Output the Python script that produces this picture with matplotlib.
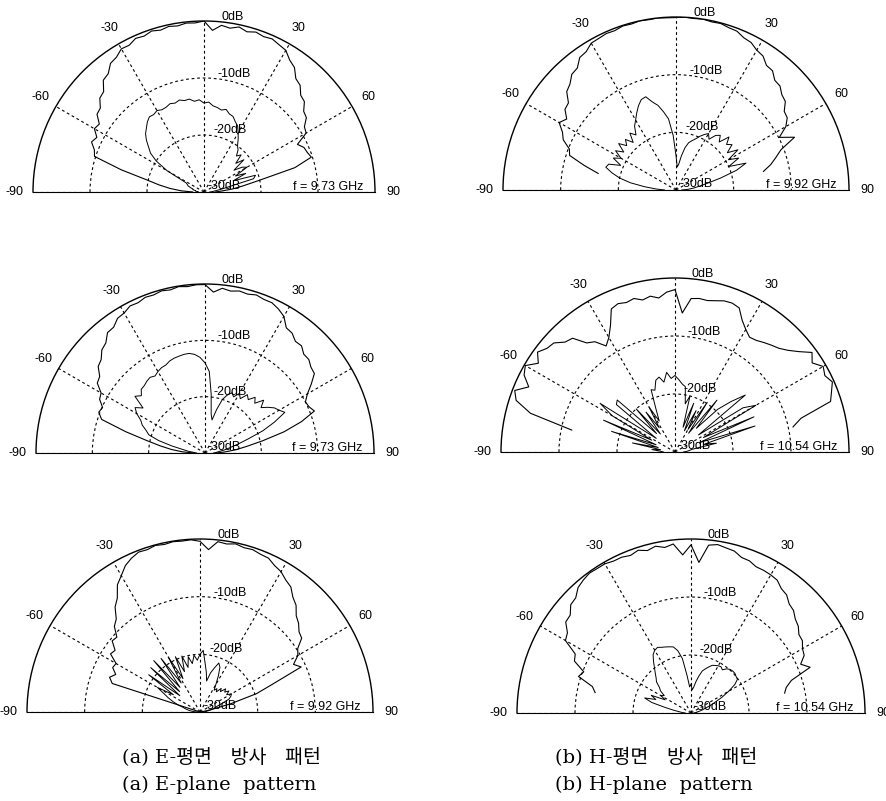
import numpy as np
import matplotlib
matplotlib.use("Agg")
import matplotlib.pyplot as plt

nan = np.nan

# measurement angles (deg), shared by every pattern below
ANG = np.arange(-90, 91, 3)

# (a) E-plane, 9.73 GHz (top)
E1_CO = [-28.0, -26.0, -24.0, -22.0, -19.7, -15.0, -9.8, -9.4, -8.4, -8.9,
         -7.8, -8.1, -6.8, -6.6, -5.4, -5.1, -3.6, -3.3, -2.1, -1.8,
         -1.0, -1.1, -0.5, -0.7, -0.3, -0.6, -0.3, -0.5, -0.2, -0.3,
         0.0,
         -1.6, -0.6, -0.9, -0.4, -0.9, -0.5, -0.8, -0.6, -1.0, -1.3,
         -2.4, -3.0, -4.4, -4.8, -6.0, -6.3, -7.5, -7.8, -9.0, -9.3,
         -11.6, -10.8, -10.6, -10.2, -13.5, -20.0, -23.0, -25.0, -27.0, -28.0]
E1_X = [-29.0, -29.0, -28.5, -28.5, -28.0, -28.0, -27.5, -27.0, -26.8, -26.5,
        -22.5, -20.0, -18.4, -17.5, -16.4, -15.5, -14.9, -14.2, -13.7, -13.8,
        -13.5, -13.8, -13.7, -13.4, -13.6, -13.3, -13.6, -13.5, -14.0, -13.8,
        -14.4,
        -14.2, -14.8, -15.0, -15.3, -15.0, -15.6, -15.8, -16.5, -17.0, -18.0,
        -19.0, -20.0, -20.5, -21.5, -20.8, -22.5, -21.0, -23.5, -22.0, -21.3,
        -23.8, -22.0, -24.5, -20.5, -21.0, -25.5, -27.0, -28.0, -28.5, -29.0]

# (b) H-plane, 9.92 GHz (top)
H1_CO = [nan, nan, nan, nan, -16.2, -13.5, -10.6, -10.2, -8.6, -7.9,
         -6.6, -7.4, -6.2, -6.0, -4.5, -4.0, -3.0, -2.8, -1.6, -1.4,
         -0.6, -0.5, -0.3, -0.4, -0.1, -0.2, 0.0, -0.1, 0.0, -0.1,
         -0.1,
         0.0, -0.1, 0.0, -0.2, -0.1, -0.4, -0.5, -1.1, -1.3, -2.0,
         -2.3, -3.3, -3.4, -4.4, -4.5, -5.3, -5.6, -6.8, -7.0, -8.0,
         -9.9, -7.5, -10.5, -11.8, -13.0, -14.5, nan, nan, nan, nan]
H1_X = [-28.0, -26.5, -24.5, -22.0, -20.0, -18.5, -17.2, -17.5, -19.5, -17.8,
        -19.0, -17.5, -18.8, -17.2, -18.5, -17.6, -18.9, -17.3, -18.2, -16.8,
        -16.0, -15.0, -14.0, -13.2, -13.0, -14.2, -15.0, -16.3, -17.6, -20.5,
        -24.0,
        -26.0, -25.5, -24.0, -22.5, -21.5, -21.0, -20.5, -19.8, -19.2, -18.7,
        -19.5, -18.3, -17.8, -18.8, -17.0, -18.2, -17.5, -19.0, -17.2, -19.5,
        -17.8, -20.0, -17.0, -19.0, -22.0, -24.5, -26.0, -27.0, -28.0, -29.0]

# (a) E-plane, 9.73 GHz (middle)
E2_CO = [-28.0, -26.0, -24.0, -22.0, -19.5, -15.5, -10.7, -9.8, -10.1, -9.0,
         -8.7, -7.2, -6.9, -5.6, -5.2, -4.1, -3.7, -2.5, -2.4, -1.5,
         -1.3, -0.7, -0.8, -0.4, -0.5, -0.2, -0.4, -0.1, -0.3, -0.1,
         -0.1,
         -1.4, -0.6, -0.9, -0.6, -0.8, -0.5, -0.8, -0.8, -1.3, -2.0,
         -3.5, -3.7, -4.5, -4.4, -5.2, -5.2, -5.8, -6.0, -7.5, -9.0,
         -10.0, -9.8, -9.2, -12.0, -15.5, -19.5, -22.5, -24.5, -26.5, -28.0]
E2_X = [-28.5, -28.0, -27.0, -26.0, -24.0, -21.5, -19.5, -18.8, -17.8, -17.2,
        -16.0, -15.2, -16.4, -14.0, -14.8, -14.0, -13.9, -13.6, -13.4, -13.7,
        -13.3, -13.0, -12.9, -12.5, -12.3, -12.2, -12.1, -12.1, -12.4, -13.0,
        -14.0,
        -15.5, -19.5, -23.0, -24.0, -22.0, -20.0, -19.0, -18.3, -18.8, -17.8,
        -18.5, -17.2, -17.8, -16.7, -17.5, -16.0, -17.2, -16.2, -15.3, -14.8,
        -14.1, -16.5, -19.0, -22.0, -24.0, -25.5, -26.5, -27.5, -28.0, -28.5]

# (b) H-plane, 10.54 GHz (middle)
H2_CO = [nan, nan, nan, nan, -11.8, -4.2, -1.2, -0.4, -2.4, -0.8,
         -0.2, -1.9, -0.7, -1.6, -1.9, -3.2, -3.6, -5.8, -6.5, -8.2,
         -7.2, -5.5, -3.0, -2.6, -2.9, -2.6, -3.2, -2.8, -3.3, -2.4,
         -2.0,
         -6.0, -3.4, -3.2, -3.3, -3.0, -2.6, -2.5, -2.8, -4.5, -5.6,
         -6.4, -6.2, -5.7, -5.2, -4.7, -3.8, -2.5, -0.8, -1.8, -0.5,
         -1.0, -0.3, -1.1, -1.8, -7.5, -9.2, nan, nan, nan, nan]
H2_X = [-28.0, -27.5, -26.0, -27.5, -22.5, -27.0, -18.5, -26.5, -16.5, -25.5,
        -17.5, -14.6, -26.0, -17.0, -16.6, -25.5, -20.0, -26.0, -21.5, -25.0,
        -21.1, -24.0, -22.0, -18.5, -18.8, -17.2, -16.8, -17.8, -16.2, -17.3,
        -16.8,
        -17.5, -18.2, -18.6, -21.5, -20.0, -25.5, -21.0, -26.0, -22.0, -25.5,
        -19.8, -26.0, -18.5, -24.5, -19.6, -17.0, -14.4, -25.0, -16.0, -13.9,
        -24.5, -15.1, -25.5, -15.5, -24.7, -22.7, -27.0, -27.5, -28.0, -28.5]

# (a) E-plane, 9.92 GHz (bottom)
E3_CO = [-30.0, -30.0, -30.0, -30.0, -30.0, -30.0, -14.0, -13.2, -14.0, -13.0,
         -13.2, -11.5, -11.8, -10.4, -10.6, -9.0, -8.3, -6.6, -5.6, -3.7,
         -2.7, -1.5, -0.8, -0.3, -0.4, -0.1, -0.3, -0.1, -0.2, -0.1,
         -0.4,
         -1.8, -0.3, -0.5, -0.2, -0.5, -0.4, -0.7, -0.8, -1.5, -1.9,
         -2.7, -3.2, -4.4, -5.1, -6.4, -7.0, -7.9, -8.2, -9.8, -10.4,
         -11.8, -10.8, -16.5, -19.7, -24.5, -28.0, -29.5, -30.0, -30.0, -30.0]
E3_X = [-29.5, -29.0, -28.5, -28.0, -27.5, -27.0, -26.0, -25.0, -24.0, -23.0,
        -21.5, -24.5, -19.0, -25.5, -18.5, -25.0, -18.0, -24.5, -18.5, -24.0,
        -19.0, -23.5, -19.5, -22.5, -19.8, -22.0, -20.2, -21.5, -20.1, -21.0,
        -20.0,
        -19.3, -21.5, -23.0, -24.5, -23.0, -22.0, -20.9, -21.5, -23.0, -24.5,
        -25.5, -25.0, -25.5, -24.5, -25.0, -24.0, -24.5, -23.8, -24.5, -23.7,
        -24.0, -24.5, -26.0, -27.0, -27.5, -28.0, -28.5, -29.0, -29.0, -29.5]

# (b) H-plane, 10.54 GHz (bottom)
H3_CO = [nan, nan, nan, nan, -13.1, -12.4, -9.6, -10.2, -8.0, -7.6,
         -5.0, -4.6, -3.3, -3.2, -2.1, -1.9, -0.9, -0.5, -0.2, -0.3,
         -0.3, -0.6, -0.6, -0.9, -0.5, -1.0, -0.6, -1.1, -0.7, -2.7,
         -1.0,
         -4.0, -0.9, -0.6, -0.9, -1.1, -1.8, -1.9, -2.4, -2.4, -2.5,
         -2.7, -3.5, -3.8, -4.7, -5.0, -5.8, -6.2, -7.0, -7.1, -7.8,
         -8.1, -9.3, -8.0, -11.8, -13.0, -13.5, nan, nan, nan, nan]
H3_X = [-29.0, -28.5, -28.0, -27.0, -25.5, -23.0, -21.6, -23.5, -22.5, -25.0,
        -24.0, -24.5, -23.5, -23.0, -22.0, -21.5, -20.8, -20.0, -19.0, -18.0,
        -17.5, -17.3, -17.6, -17.8, -18.0, -18.2, -19.0, -20.5, -23.5, -25.5,
        -25.0,
        -26.0, -25.5, -24.5, -23.5, -22.5, -22.0, -21.5, -21.0, -20.8, -20.6,
        -20.5, -20.8, -20.2, -19.9, -19.8, -19.8, -20.0, -20.1, -21.0, -22.5,
        -24.0, -25.5, -26.5, -27.5, -28.0, -28.5, -29.0, -29.0, -29.5, -29.5]

FREQS = ["f = 9.73 GHz", "f = 9.92 GHz", "f = 9.73 GHz",
         "f = 10.54 GHz", "f = 9.92 GHz", "f = 10.54 GHz"]
PATTERNS = [(E1_CO, E1_X), (H1_CO, H1_X), (E2_CO, E2_X),
            (H2_CO, H2_X), (E3_CO, E3_X), (H3_CO, H3_X)]

# centre (px from top-left) and radius of each half-disc
W, H = 886, 801
LAYOUT = [(204, 192, 171), (676, 190, 173), (205, 453, 169),
          (675, 452, 174), (200, 712, 173), (691, 713, 174)]

fig = plt.figure(figsize=(W / 100, H / 100), dpi=100)
small = dict(fontsize=9, family="Liberation Sans", color="black")

for (co, xp), freq, (cx, cy, R) in zip(PATTERNS, FREQS, LAYOUT):
    # polar axes stay square; the half disc sits centred inside the square
    ax = fig.add_axes([(cx - R) / W, (H - cy - 0.5 * R) / H, 2 * R / W, 2 * R / H],
                      projection="polar")
    ax.set_theta_zero_location("N")
    ax.set_theta_direction(-1)
    ax.set_thetamin(-90)
    ax.set_thetamax(90)
    ax.set_rlim(0, 30)
    ax.set_thetagrids([-90, -60, -30, 0, 30, 60, 90], labels=[""] * 7)
    ax.set_rgrids([10, 20], labels=["", ""])
    ax.grid(True, color="black", lw=0.8, ls=(0, (2.5, 2.5)))
    for s in ("start", "end", "inner"):
        ax.spines[s].set_visible(False)
    ax.spines["polar"].set_linewidth(1.0)
    ax.spines["polar"].set_color("black")

    th = np.deg2rad(ANG)
    ax.plot(th, np.array(co) + 30, color="black", lw=0.8)
    ax.plot(th, np.array(xp) + 30, color="black", lw=0.7)

    # angle labels just outside the rim
    for a in (-90, -60, -30, 30, 60, 90):
        ax.text(np.deg2rad(a), 33.2, str(a), ha="center", va="center",
                clip_on=False, **small)
    # dB ring labels
    for r, lab, off in [(30, "0dB", (17, 4)), (20, "-10dB", (13, 4)),
                        (10, "-20dB", (9, 5)), (0, "-30dB", (3, 6))]:
        ax.annotate(lab, xy=(0, r), xytext=off, textcoords="offset pixels",
                    ha="left", va="center", annotation_clip=False, **small)
    ax.annotate(freq, xy=(np.pi / 2, 30), xytext=(-12, 5),
                textcoords="offset pixels", ha="right", va="center",
                annotation_clip=False, **small)

cap = dict(family=["DejaVu Serif", "Noto Sans CJK KR"], ha="left", va="center")
fig.text(122 / W, 1 - 758 / H, "(a) E-평면   방사   패턴", fontsize=14, **cap)
fig.text(122 / W, 1 - 785 / H, "(a) E-plane  pattern", fontsize=14, **cap)
fig.text(555 / W, 1 - 758 / H, "(b) H-평면   방사   패턴", fontsize=14, **cap)
fig.text(555 / W, 1 - 785 / H, "(b) H-plane  pattern", fontsize=14, **cap)

fig.savefig("out.png", dpi=100, facecolor="white")
